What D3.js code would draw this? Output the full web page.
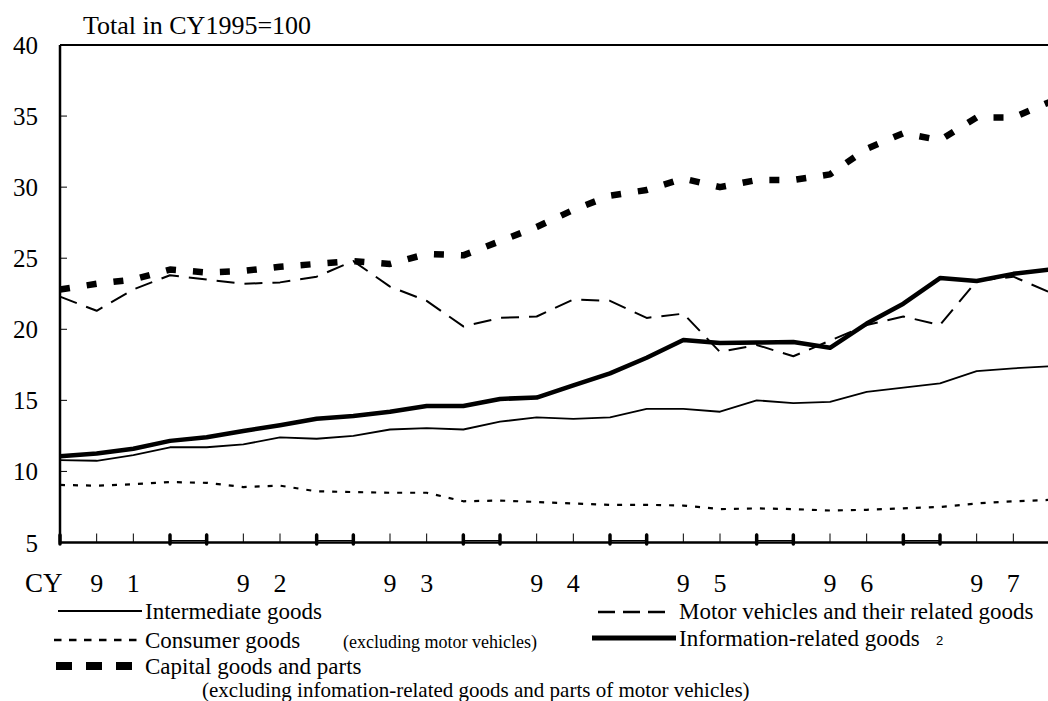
<!DOCTYPE html>
<html>
<head>
<meta charset="utf-8">
<script src="https://cdn.jsdelivr.net/npm/d3@7"></script>
<style>
  body { margin: 0; background: #fff; }
  svg { display: block; font-family: "Liberation Serif", "Times New Roman", serif; }
</style>
</head>
<body>
<script>
// quarterly, CY1991 Q1 .. CY1997 Q4
var quarters = [];
var years = ["91", "92", "93", "94", "95", "96", "97"];
years.forEach(function (y) { for (var q = 1; q <= 4; q++) quarters.push("19" + y + "Q" + q); });

var intermediate = [10.8, 10.75, 11.15, 11.7, 11.7, 11.9, 12.4, 12.3, 12.5, 12.95, 13.05, 12.95, 13.5, 13.8,
                    13.7, 13.8, 14.4, 14.4, 14.2, 15.0, 14.8, 14.9, 15.6, 15.9, 16.2, 17.05, 17.25, 17.4];
var motor = [22.3, 21.3, 22.8, 23.8, 23.5, 23.2, 23.3, 23.7, 24.8, 23.0, 22.0, 20.2, 20.8, 20.9,
             22.1, 22.0, 20.8, 21.1, 18.4, 18.9, 18.1, 19.2, 20.3, 20.9, 20.3, 23.4, 23.7, 22.6];
var consumer = [9.05, 9.0, 9.1, 9.25, 9.2, 8.9, 9.0, 8.6, 8.55, 8.5, 8.5, 7.9, 7.95, 7.85,
                7.75, 7.65, 7.65, 7.6, 7.35, 7.4, 7.35, 7.25, 7.3, 7.4, 7.5, 7.75, 7.9, 8.0];
var info = [11.07, 11.26, 11.6, 12.15, 12.4, 12.85, 13.25, 13.7, 13.9, 14.2, 14.6, 14.6, 15.1, 15.2,
            16.05, 16.9, 18.0, 19.25, 19.04, 19.07, 19.1, 18.7, 20.4, 21.8, 23.6, 23.4, 23.9, 24.2];
var capital = [22.8, 23.2, 23.5, 24.2, 24.0, 24.1, 24.4, 24.6, 24.8, 24.6, 25.3, 25.2, 26.2, 27.2,
               28.4, 29.4, 29.8, 30.6, 30.0, 30.5, 30.5, 30.9, 32.7, 33.8, 33.3, 34.9, 34.9, 36.0];
var yTicks = [5, 10, 15, 20, 25, 30, 35, 40];

var width = 1048, height = 701;
var svg = d3.select("body").append("svg").attr("width", width).attr("height", height);

var x = d3.scaleLinear().domain([0, quarters.length - 1]).range([60, 1050]);
var y = d3.scaleLinear().domain([5, 40]).range([542.5, 45]);

// frame
svg.append("line").attr("x1", 60).attr("x2", width).attr("y1", y(40)).attr("y2", y(40))
   .attr("stroke", "#000").attr("stroke-width", 2);
svg.append("line").attr("x1", 60).attr("x2", 60).attr("y1", y(40)).attr("y2", y(5))
   .attr("stroke", "#000").attr("stroke-width", 2.5);
svg.append("line").attr("x1", 60).attr("x2", width).attr("y1", y(5)).attr("y2", y(5))
   .attr("stroke", "#000").attr("stroke-width", 2.5);

// y ticks (inward) and labels
svg.selectAll(".ytick").data(yTicks.slice(1, -1)).enter().append("line")
   .attr("x1", 60).attr("x2", 67).attr("y1", function (d) { return y(d); }).attr("y2", function (d) { return y(d); })
   .attr("stroke", "#000").attr("stroke-width", 1);
svg.selectAll(".ylab").data(yTicks).enter().append("text")
   .attr("x", 38).attr("y", function (d) { return y(d) + 9; })
   .attr("text-anchor", "end").attr("font-size", 25)
   .text(function (d) { return d; });

// x ticks: thin every quarter, bold pair at each year join
svg.selectAll(".xtick").data(quarters).enter().append("line")
   .attr("x1", function (d, i) { return x(i); }).attr("x2", function (d, i) { return x(i); })
   .attr("y1", y(5)).attr("y2", y(5) - 9)
   .attr("stroke", "#000").attr("stroke-width", 1);
var joins = quarters.map(function (d, i) { return i; }).filter(function (i) { return i % 4 === 3; });
svg.selectAll(".xjoin").data(joins).enter().append("line")
   .attr("x1", function (i) { return x(i); }).attr("x2", function (i) { return x(i + 1); })
   .attr("y1", y(5) - 2).attr("y2", y(5) - 2)
   .attr("stroke", "#000").attr("stroke-width", 1.2);
var bold = quarters.map(function (d, i) { return i; }).filter(function (i) { return i % 4 === 3 || i % 4 === 0; });
svg.selectAll(".xbold").data(bold).enter().append("line")
   .attr("x1", function (i) { return x(i); }).attr("x2", function (i) { return x(i); })
   .attr("y1", y(5) + 1.5).attr("y2", y(5) - 7.5)
   .attr("stroke", "#000").attr("stroke-width", 3.5).attr("stroke-linecap", "round");

svg.append("text").attr("x", 25).attr("y", 592).attr("font-size", 27).text("CY");
years.forEach(function (yr, k) {
  [0, 1].forEach(function (j) {
    svg.append("text").attr("x", x(k * 4 + 1 + j)).attr("y", 592)
       .attr("text-anchor", "middle").attr("font-size", 26).text(yr[j]);
  });
});

svg.append("text").attr("x", 83).attr("y", 34).attr("font-size", 26).text("Total in CY1995=100");

// series
var series = [
  { name: "Intermediate goods", values: intermediate, w: 1.8, dash: null },
  { name: "Motor vehicles and their related goods", values: motor, w: 2, dash: "18,10" },
  { name: "Consumer goods", values: consumer, w: 2.2, dash: "5,8" },
  { name: "Information-related goods", values: info, w: 4.5, dash: null },
  { name: "Capital goods and parts", values: capital, w: 6.5, dash: "10,17" }
];

var line = d3.line().x(function (d, i) { return x(i); }).y(function (d) { return y(d); });

svg.selectAll(".series").data(series).enter().append("path")
   .attr("d", function (s) { return line(s.values); })
   .attr("fill", "none").attr("stroke", "#000")
   .attr("stroke-width", function (s) { return s.w; })
   .attr("stroke-dasharray", function (s) { return s.dash; })
   .attr("stroke-linejoin", "round");

// legend
var leg = svg.append("g").attr("font-size", 23);
function legLine(x1, x2, yy, w, dash) {
  leg.append("line").attr("x1", x1).attr("x2", x2).attr("y1", yy).attr("y2", yy)
     .attr("stroke", "#000").attr("stroke-width", w).attr("stroke-dasharray", dash);
}
legLine(58, 142, 611, 2, null);
leg.append("text").attr("x", 145).attr("y", 619).text(series[0].name);
legLine(598, 666, 612, 2.5, "17,8");
leg.append("text").attr("x", 679).attr("y", 619).text(series[1].name);
legLine(54, 142, 640, 2.5, "7.5,7.5");
leg.append("text").attr("x", 145).attr("y", 648).text(series[2].name);
leg.append("text").attr("x", 343).attr("y", 648).attr("font-size", 18).text("(excluding motor vehicles)");
legLine(592, 676, 638, 5, null);
leg.append("text").attr("x", 679).attr("y", 646).text(series[3].name);
leg.append("text").attr("x", 936).attr("y", 645).attr("font-size", 13)
   .attr("font-family", "Liberation Sans, Arial, sans-serif").text("2");
legLine(56, 132, 666, 8, "16,14");
leg.append("text").attr("x", 145).attr("y", 674).text(series[4].name);
leg.append("text").attr("x", 202).attr("y", 697).attr("font-size", 21)
   .text("(excluding infomation-related goods and parts of motor vehicles)");
</script>
</body>
</html>
